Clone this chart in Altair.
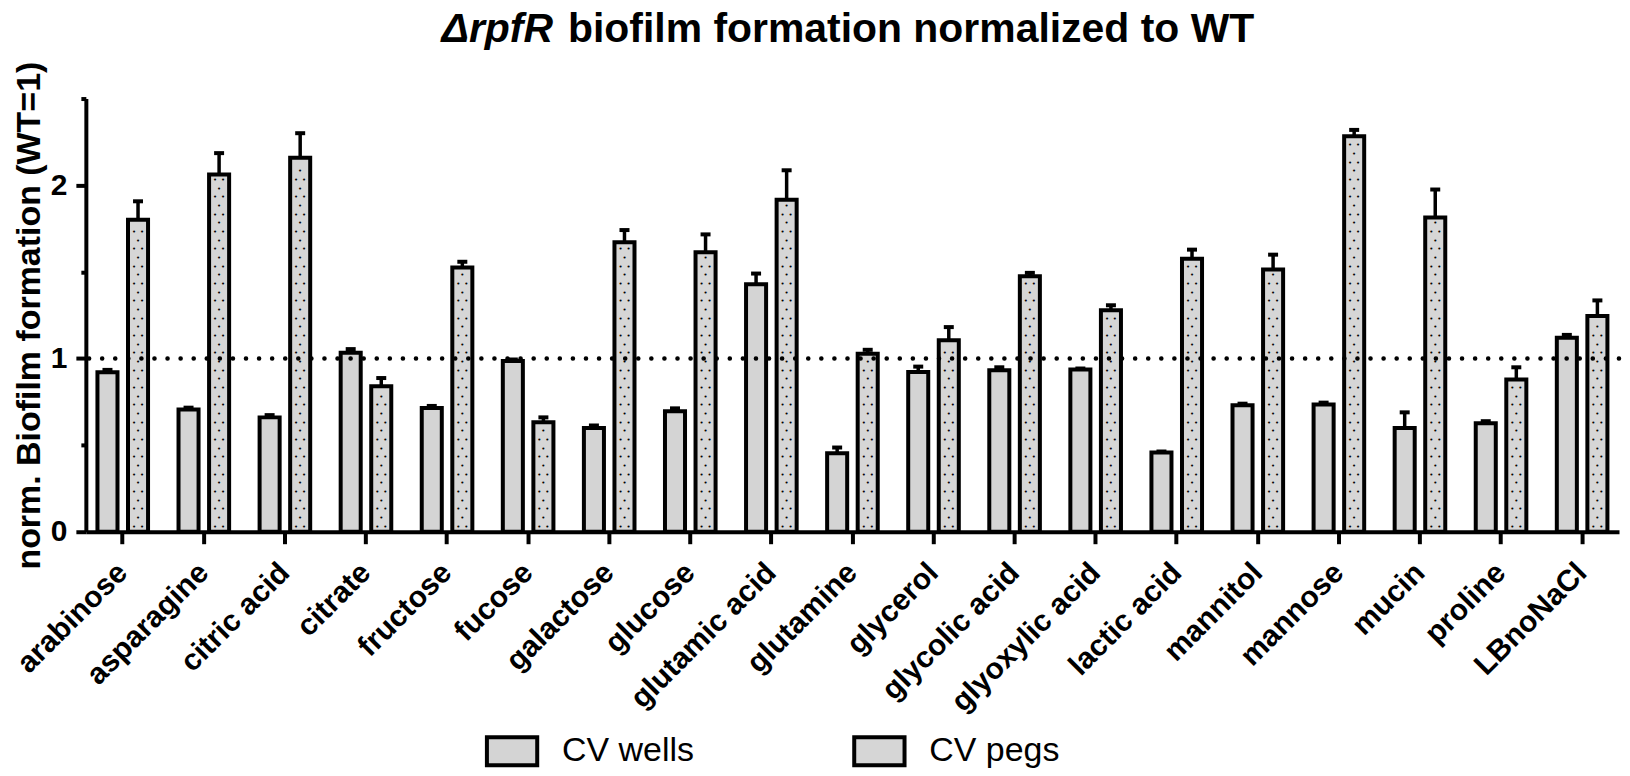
import altair as alt
import pandas as pd

categories = ["arabinose", "asparagine", "citric acid", "citrate", "fructose", "fucose",
              "galactose", "glucose", "glutamic acid", "glutamine", "glycerol",
              "glycolic acid", "glyoxylic acid", "lactic acid", "mannitol", "mannose",
              "mucin", "proline", "LBnoNaCl"]
series_names = ["CV wells", "CV pegs"]
wells_mean = [0.92, 0.706, 0.66, 1.033, 0.714, 0.986, 0.599, 0.695, 1.428, 0.453,
              0.922, 0.932, 0.936, 0.457, 0.73, 0.735, 0.599, 0.626, 1.119]
wells_sd = [0.014, 0.010, 0.013, 0.021, 0.012, 0.008, 0.014, 0.017, 0.062, 0.033,
            0.031, 0.017, 0.006, 0.006, 0.009, 0.010, 0.090, 0.012, 0.017]
pegs_mean = [1.80, 2.062, 2.158, 0.84, 1.525, 0.632, 1.671, 1.613, 1.916, 1.027,
             1.105, 1.475, 1.278, 1.576, 1.514, 2.282, 1.813, 0.879, 1.245]
pegs_sd = [0.107, 0.123, 0.142, 0.047, 0.033, 0.028, 0.070, 0.103, 0.170, 0.023,
           0.076, 0.019, 0.029, 0.052, 0.085, 0.037, 0.162, 0.070, 0.090]

rows = []
for c, m, s in zip(categories, wells_mean, wells_sd):
    rows.append(dict(cat=c, series="CV wells", mean=m, top=m + s))
for c, m, s in zip(categories, pegs_mean, pegs_sd):
    rows.append(dict(cat=c, series="CV pegs", mean=m, top=m + s))
df = pd.DataFrame(rows)

# dotted texture rows inside the "CV pegs" bars (derived from the bar heights)
dot_rows = []
for c, m in zip(categories, pegs_mean):
    k = 0
    while 0.03 + 0.05 * k < m - 0.03:
        dot_rows.append(dict(cat=c, series="CV pegs", lvl=0.03 + 0.05 * k, row=k % 2))
        k += 1
dots = pd.DataFrame(dot_rows)

FONT = "Liberation Sans"
W, H = 1536, 434

xscale = alt.Scale(domain=categories, paddingInner=0.25, paddingOuter=0.08)
oscale = alt.Scale(domain=series_names, paddingInner=0.344, paddingOuter=0.167)
yscale = alt.Scale(domain=[0, 2.5], nice=False, zero=True)

x_enc = alt.X("cat:N", scale=xscale, sort=categories,
              axis=alt.Axis(title=None, labelAngle=-45, labelAlign="right",
                            labelBaseline="middle", labelFont=FONT, labelFontSize=30,
                            labelFontWeight="bold", labelColor="black", domainColor="black",
                            domainWidth=4, tickColor="black", tickWidth=4, tickSize=12,
                            labelPadding=24, labelLimit=0, labelOverlap=False))
xo_enc = alt.XOffset("series:N", scale=oscale, sort=series_names)
y_axis = alt.Axis(title="norm. Biofilm formation (WT=1)", values=[0, 0.5, 1, 1.5, 2, 2.5],
                  labelExpr="datum.value % 1 === 0 ? format(datum.value, 'd') : ''",
                  tickSize={"condition": {"test": "datum.value % 1 === 0", "value": 10}, "value": 5},
                  labelFont=FONT, labelFontSize=30, labelFontWeight="bold", labelColor="black",
                  titleFont=FONT, titleFontSize=34, titleFontWeight="bold", titleColor="black",
                  titlePadding=4, titleLimit=0, domainColor="black", domainWidth=4,
                  tickColor="black", tickWidth=4, labelPadding=9, grid=False)

base = alt.Chart(df)

bars = base.mark_bar(stroke="black", strokeWidth=4, strokeJoin="miter").encode(
    x=x_enc,
    xOffset=xo_enc,
    y=alt.Y("mean:Q", scale=yscale, axis=y_axis),
    color=alt.Color("series:N", sort=series_names,
                    scale=alt.Scale(domain=series_names, range=["#d4d4d4", "#d6d6d6"]),
                    legend=alt.Legend(title=None, orient="none", direction="horizontal",
                                      legendX=410, legendY=637,
                                      symbolType="M-1.8,-1H1.8V1H-1.8Z", symbolSize=784,
                                      symbolStrokeColor="black", symbolStrokeWidth=4,
                                      symbolOpacity=1, labelFont=FONT, labelFontSize=34,
                                      labelColor="black", labelOffset=33, columnPadding=151,
                                      labelLimit=400)),
)

err = base.mark_rule(color="black", strokeWidth=3.5).encode(
    x=alt.X("cat:N", scale=xscale, sort=categories),
    xOffset=xo_enc,
    y=alt.Y("mean:Q", scale=yscale),
    y2="top:Q",
)
caps = base.mark_tick(color="black", thickness=4, size=10, opacity=1).encode(
    x=alt.X("cat:N", scale=xscale, sort=categories),
    xOffset=xo_enc,
    y=alt.Y("top:Q", scale=yscale),
)

dbase = alt.Chart(dots)
dot_enc = dict(x=alt.X("cat:N", scale=xscale, sort=categories),
               xOffset=xo_enc,
               y=alt.Y("lvl:Q", scale=yscale))
dots_c = dbase.transform_filter("datum.row == 1").mark_text(
    text="•", fontSize=7, color="black", font="DejaVu Sans", baseline="middle", align="center"
).encode(**dot_enc)
dots_l = dbase.transform_filter("datum.row == 0").mark_text(
    text="•", fontSize=7, color="black", font="DejaVu Sans", baseline="middle", align="center", dx=-4
).encode(**dot_enc)
dots_r = dbase.transform_filter("datum.row == 0").mark_text(
    text="•", fontSize=7, color="black", font="DejaVu Sans", baseline="middle", align="center", dx=4
).encode(**dot_enc)

ref = alt.Chart(pd.DataFrame({"v": [1]})).mark_rule(
    color="black", strokeWidth=4.5, strokeDash=[0.1, 13], strokeCap="round"
).encode(y=alt.Y("v:Q", scale=yscale))

title_df = pd.DataFrame({"a": [0]})
title_it = alt.Chart(title_df).mark_text(
    text="ΔrpfR", font=FONT, fontSize=41, fontWeight="bold", fontStyle="italic",
    align="right", baseline="alphabetic", color="black"
).encode(x=alt.value(468), y=alt.value(-57))
title_rest = alt.Chart(title_df).mark_text(
    text="biofilm formation normalized to WT", font=FONT, fontSize=41, fontWeight="bold",
    align="left", baseline="alphabetic", color="black"
).encode(x=alt.value(483), y=alt.value(-57))

chart = alt.layer(bars, dots_c, dots_l, dots_r, err, caps, ref, title_it, title_rest).properties(
    width=W, height=H, padding={"left": 3, "top": 0, "right": 0, "bottom": 0}, background="white"
).configure_view(stroke=None)

chart.save("out.html", embed_options={"renderer": "svg", "actions": False})
